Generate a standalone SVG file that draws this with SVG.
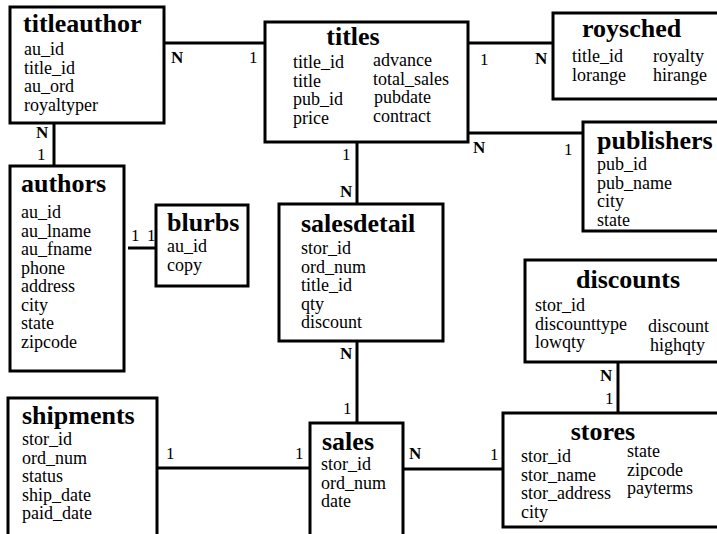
<svg xmlns="http://www.w3.org/2000/svg" width="717" height="534" viewBox="0 0 717 534">
<style>
.box{fill:#fff;stroke:#000;stroke-width:3}
.ln{stroke:#000;stroke-width:3;fill:none}
.t{font-family:"Liberation Serif","Times New Roman",serif;font-weight:bold;font-size:26px;fill:#000}
.f{font-family:"Liberation Serif","Times New Roman",serif;font-size:18px;fill:#000}
.n{font-family:"Liberation Serif","Times New Roman",serif;font-size:17px;fill:#000;font-weight:bold}
.o{font-family:"Liberation Serif","Times New Roman",serif;font-size:17px;fill:#000}
</style>
<rect width="717" height="534" fill="#fff"/>
<g id="connectors">
<line class="ln" x1="164" y1="43" x2="265" y2="43"/>
<line class="ln" x1="468" y1="43" x2="553" y2="43"/>
<line class="ln" x1="468" y1="133" x2="583" y2="133"/>
<line class="ln" x1="54" y1="123" x2="54" y2="166"/>
<line class="ln" x1="128" y1="248" x2="156" y2="248"/>
<line class="ln" x1="357" y1="142" x2="357" y2="204"/>
<line class="ln" x1="357" y1="341" x2="357" y2="423"/>
<line class="ln" x1="157" y1="468" x2="310" y2="468"/>
<line class="ln" x1="403" y1="469" x2="503" y2="469"/>
<line class="ln" x1="618" y1="362" x2="618" y2="413"/>
<text class="n" x="171" y="63">N</text>
<text class="o" x="249" y="63">1</text>
<text class="o" x="480" y="65">1</text>
<text class="n" x="535" y="64">N</text>
<text class="n" x="473" y="153">N</text>
<text class="o" x="564" y="155">1</text>
<text class="n" x="36" y="138">N</text>
<text class="o" x="37" y="160">1</text>
<text class="o" x="131" y="241">1</text>
<text class="o" x="147" y="241">1</text>
<text class="o" x="342" y="160">1</text>
<text class="n" x="340" y="197">N</text>
<text class="n" x="340" y="359">N</text>
<text class="o" x="343" y="414">1</text>
<text class="o" x="166" y="459">1</text>
<text class="o" x="295" y="459">1</text>
<text class="n" x="409" y="459">N</text>
<text class="o" x="490" y="460">1</text>
<text class="n" x="600" y="381">N</text>
<text class="o" x="605" y="404">1</text>
</g>
<g id="titleauthor">
<rect class="box" x="10" y="7" width="154" height="116"/>
<text class="t" x="23" y="32">titleauthor</text>
<text class="f" x="24" y="55">au_id</text>
<text class="f" x="24" y="73.5">title_id</text>
<text class="f" x="24" y="92">au_ord</text>
<text class="f" x="24" y="110.5">royaltyper</text>
</g>
<g id="titles">
<rect class="box" x="265" y="22" width="203" height="120"/>
<text class="t" x="353" y="45" text-anchor="middle">titles</text>
<text class="f" x="293" y="68">title_id</text>
<text class="f" x="293" y="86.5">title</text>
<text class="f" x="293" y="105">pub_id</text>
<text class="f" x="293" y="123.5">price</text>
<text class="f" x="373" y="66">advance</text>
<text class="f" x="373" y="84.5">total_sales</text>
<text class="f" x="374" y="103">pubdate</text>
<text class="f" x="373" y="121.5">contract</text>
</g>
<g id="roysched">
<rect class="box" x="553" y="13" width="180" height="86"/>
<text class="t" x="582" y="37">roysched</text>
<text class="f" x="572" y="62">title_id</text>
<text class="f" x="572" y="80.5">lorange</text>
<text class="f" x="653" y="62">royalty</text>
<text class="f" x="653" y="80.5">hirange</text>
</g>
<g id="publishers">
<rect class="box" x="583" y="122" width="150" height="109"/>
<text class="t" x="597" y="149">publishers</text>
<text class="f" x="597" y="170">pub_id</text>
<text class="f" x="597" y="188.5">pub_name</text>
<text class="f" x="597" y="207">city</text>
<text class="f" x="597" y="225.5">state</text>
</g>
<g id="authors">
<rect class="box" x="10" y="166" width="114" height="205"/>
<text class="t" x="21" y="192">authors</text>
<text class="f" x="21" y="218">au_id</text>
<text class="f" x="21" y="236.5">au_lname</text>
<text class="f" x="21" y="255">au_fname</text>
<text class="f" x="21" y="273.5">phone</text>
<text class="f" x="21" y="292">address</text>
<text class="f" x="21" y="310.5">city</text>
<text class="f" x="21" y="329">state</text>
<text class="f" x="21" y="347.5">zipcode</text>
</g>
<g id="blurbs">
<rect class="box" x="156" y="205" width="92" height="81"/>
<text class="t" x="167" y="231">blurbs</text>
<text class="f" x="167" y="252">au_id</text>
<text class="f" x="167" y="270.5">copy</text>
</g>
<g id="salesdetail">
<rect class="box" x="279" y="204" width="164" height="137"/>
<text class="t" x="301" y="232">salesdetail</text>
<text class="f" x="301" y="254">stor_id</text>
<text class="f" x="301" y="272.5">ord_num</text>
<text class="f" x="301" y="291">title_id</text>
<text class="f" x="301" y="309.5">qty</text>
<text class="f" x="301" y="328">discount</text>
</g>
<g id="discounts">
<rect class="box" x="525" y="260" width="208" height="102"/>
<text class="t" x="628" y="288" text-anchor="middle">discounts</text>
<text class="f" x="535" y="310.5">stor_id</text>
<text class="f" x="535" y="329.5">discounttype</text>
<text class="f" x="535" y="348">lowqty</text>
<text class="f" x="648" y="332">discount</text>
<text class="f" x="650" y="351">highqty</text>
</g>
<g id="shipments">
<rect class="box" x="8" y="398" width="149" height="150"/>
<text class="t" x="22" y="424">shipments</text>
<text class="f" x="22" y="445">stor_id</text>
<text class="f" x="22" y="463.5">ord_num</text>
<text class="f" x="22" y="482">status</text>
<text class="f" x="22" y="500.5">ship_date</text>
<text class="f" x="22" y="519">paid_date</text>
</g>
<g id="sales">
<rect class="box" x="310" y="423" width="93" height="125"/>
<text class="t" x="322" y="450">sales</text>
<text class="f" x="321" y="470">stor_id</text>
<text class="f" x="321" y="488.5">ord_num</text>
<text class="f" x="321" y="507">date</text>
</g>
<g id="stores">
<rect class="box" x="503" y="413" width="230" height="114"/>
<text class="t" x="603" y="440" text-anchor="middle">stores</text>
<text class="f" x="521" y="462">stor_id</text>
<text class="f" x="521" y="480.5">stor_name</text>
<text class="f" x="521" y="499">stor_address</text>
<text class="f" x="521" y="517.5">city</text>
<text class="f" x="627" y="457">state</text>
<text class="f" x="627" y="475.5">zipcode</text>
<text class="f" x="627" y="494">payterms</text>
</g>
</svg>
